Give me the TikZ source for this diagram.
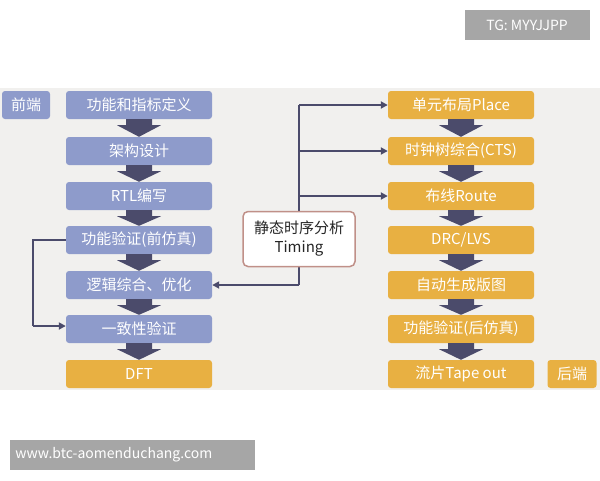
\documentclass[tikz,border=0pt]{standalone}
\usepackage{fontspec}
\setmainfont{Noto Sans CJK SC}
\usetikzlibrary{arrows.meta}
\definecolor{bl}{HTML}{8E9BCB}
\definecolor{og}{HTML}{E8B042}
\definecolor{dk}{HTML}{4B4B6B}
\definecolor{bg}{HTML}{F1F0EE}
\definecolor{br}{HTML}{C09088}
\begin{document}
\begin{tikzpicture}[x=1pt,y=-1pt,
 box/.style={rounded corners=3pt,minimum width=146pt,minimum height=28pt,inner sep=0pt,text=white,font=\fontsize{15}{17}\selectfont},
 L/.style={box,fill=bl},
 R/.style={box,fill=og},
 ln/.style={draw=dk,line width=1.8pt},
 ar/.style={ln,-{Triangle[length=7pt,width=7pt]}}]
\useasboundingbox (0,0) rectangle (600,480);
\fill[white] (0,0) rectangle (600,480);
\fill[bg] (0,88) rectangle (600,390);
\node[fill=black!35,text=white,minimum width=125pt,minimum height=30pt,font=\fontsize{14}{16}\selectfont] (tg) at (527,25) {TG: MYYJJPP};
\node[fill=black!35,text=white,minimum width=245pt,minimum height=30pt,text width=233pt,font=\fontsize{14}{16}\selectfont] (www) at (132,455) {www.btc-aomenduchang.com};
\node[L,minimum width=48pt] (qd) at (26,105) {前端};
\node[R,minimum width=49pt] (hd) at (572,374) {后端};
\foreach \n/\y/\t in {l1/105/功能和指标定义,l2/151/架构设计,l3/196/RTL编写,l4/240/功能验证(前仿真),l5/285/逻辑综合、优化,l6/329/一致性验证}
  \node[L] (\n) at (139,\y) {\t};
\node[R] (l7) at (139,374) {DFT};
\foreach \n/\y/\t in {r1/105/单元布局Place,r2/151/时钟树综合(CTS),r3/196/布线Route,r4/240/{DRC/LVS},r5/285/自动生成版图,r6/329/功能验证(后仿真),r7/374/流片Tape out}
  \node[R] (\n) at (461,\y) {\t};
% big down arrows
\foreach \a/\b in {l1/l2,l2/l3,l3/l4,l4/l5,l5/l6,l6/l7,r1/r2,r2/r3,r3/r4,r4/r5,r5/r6,r6/r7}{
  \path (\a.south) coordinate (p) (\b.north) coordinate (q);
  \fill[dk] ([xshift=-13pt]p) -- ([xshift=13pt]p) -- ([xshift=13pt,yshift=-6pt]p) -- ([xshift=22pt,yshift=-6pt]p) -- (q) -- ([xshift=-22pt,yshift=-6pt]p) -- ([xshift=-13pt,yshift=-6pt]p) -- cycle;
}
% timing connectors
\coordinate (top) at (299,105);
\coordinate (bot) at (299,285);
\draw[ln] (top) -- (bot);
\draw[ar] (top) -- (r1.west);
\draw[ar] (299,151) -- (r2.west);
\draw[ar] (299,196) -- (r3.west);
\draw[ar] (bot) -- (l5.east);
\node[draw=br,line width=1.5pt,fill=white,rounded corners=5pt,minimum width=112pt,minimum height=55pt,align=center,font=\fontsize{15}{19}\selectfont,text=black!85] (sta) at (299,239) {静态时序分析\\Timing};
% left loop
\coordinate (c1) at (33,240);
\coordinate (c2) at (33,326);
\draw[ln] (l4.west) -- (c1) -- (c2);
\draw[ar] (c2) -- ([yshift=3pt]l6.west);
\end{tikzpicture}
\end{document}
